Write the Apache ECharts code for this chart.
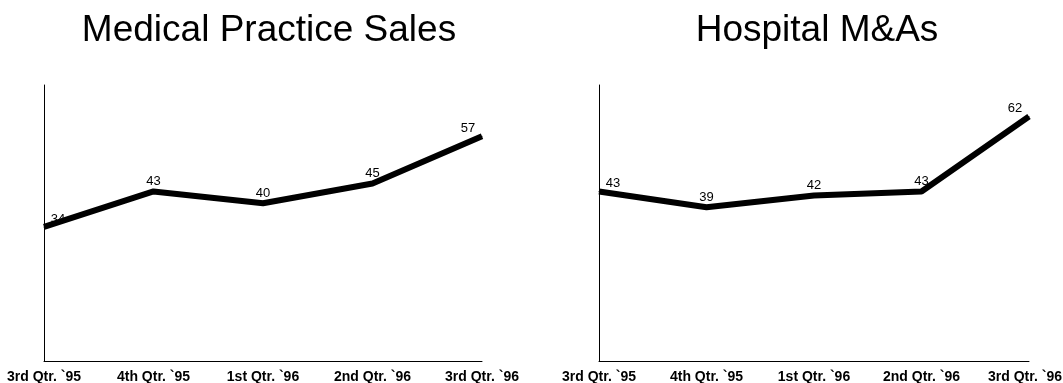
<!DOCTYPE html>
<html>
<head>
<meta charset="utf-8">
<script src="https://cdn.jsdelivr.net/npm/echarts@6/dist/echarts.min.js"></script>
<style>
html, body { margin: 0; padding: 0; background: #fff; }
#chart { width: 1063px; height: 383px; }
</style>
</head>
<body>
<div id="chart"></div>
<script>
const quarters = ['3rd Qtr. `95', '4th Qtr. `95', '1st Qtr. `96', '2nd Qtr. `96', '3rd Qtr. `96'];
const practiceSales = [34, 43, 40, 45, 57];
const hospitalMAs = [43, 39, 42, 43, 62];

const chart = echarts.init(document.getElementById('chart'));

const font = 'Liberation Sans, Arial, sans-serif';

function xAxisFor(idx, nudgeLast) {
    const last = quarters.length - 1;
    // 右图最后一个刻度标签往左挪一点，免得被画布右边裁掉
    const cats = quarters.map((q, i) =>
        nudgeLast && i === last ? { value: q, textStyle: { padding: [0, 8, 0, 0] } } : q
    );
    return {
        type: 'category',
        gridIndex: idx,
        data: cats,
        boundaryGap: false,
        axisLine: { lineStyle: { color: '#000', width: 1 } },
        axisTick: { show: false },
        axisLabel: {
            color: '#000',
            fontFamily: font,
            fontSize: 14,
            fontWeight: 'bold',
            margin: 9,
            interval: 0
        }
    };
}

function yAxisFor(idx) {
    return {
        type: 'value',
        gridIndex: idx,
        min: 0,
        max: 70,
        axisLine: { show: true, lineStyle: { color: '#000', width: 1 } },
        axisTick: { show: false },
        axisLabel: { show: false },
        splitLine: { show: false }
    };
}

// 首尾标签稍微错开，避免压在坐标轴/线端上
function pointsWithLabels(values) {
    const last = values.length - 1;
    return values.map((v, i) => {
        if (i === 0) return { value: v, label: { offset: [14, 2] } };
        if (i === last) return { value: v, label: { offset: [-14, 2] } };
        return v;
    });
}

function lineSeries(idx, values) {
    return {
        type: 'line',
        xAxisIndex: idx,
        yAxisIndex: idx,
        data: pointsWithLabels(values),
        symbol: 'circle',
        symbolSize: 1,
        itemStyle: { color: '#000' },
        lineStyle: { color: '#000', width: 6 },
        label: {
            show: true,
            position: 'top',
            distance: 3,
            color: '#000',
            fontFamily: font,
            fontSize: 13
        },
        animation: false
    };
}

const option = {
    backgroundColor: '#fff',
    title: [
        {
            text: 'Medical Practice Sales',
            left: 264,
            textAlign: 'center',
            top: 7,
            textStyle: { color: '#000', fontFamily: font, fontSize: 37, fontWeight: 'normal' }
        },
        {
            text: 'Hospital M&As',
            left: 812,
            textAlign: 'center',
            top: 7,
            textStyle: { color: '#000', fontFamily: font, fontSize: 37, fontWeight: 'normal' }
        }
    ],
    grid: [
        { left: 44, width: 438, top: 85, bottom: 22, outerBoundsMode: 'none' },
        { left: 599, width: 430, top: 85, bottom: 22, outerBoundsMode: 'none' }
    ],
    xAxis: [xAxisFor(0, false), xAxisFor(1, true)],
    yAxis: [yAxisFor(0), yAxisFor(1)],
    series: [lineSeries(0, practiceSales), lineSeries(1, hospitalMAs)]
};

chart.setOption(option);
</script>
</body>
</html>
